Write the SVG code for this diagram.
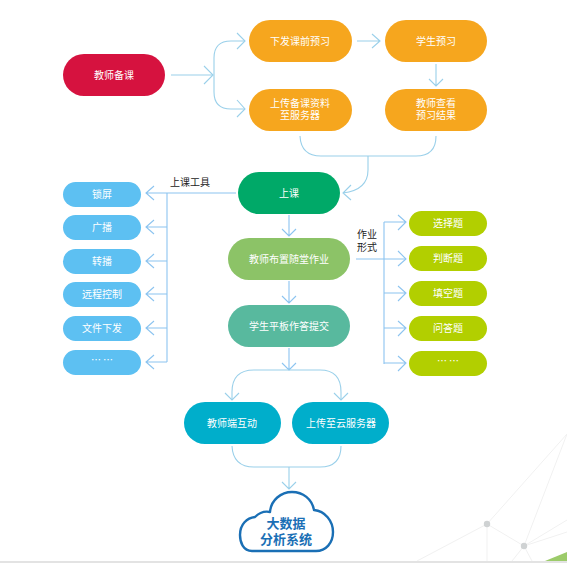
<svg xmlns="http://www.w3.org/2000/svg" width="567" height="563" viewBox="0 0 567 563">
<style>
.c{fill:none;stroke:#9ad0ea;stroke-width:1.1}
.b{fill:none;stroke:#8cc4f0;stroke-width:1.1}
.bg{fill:none;stroke:#f1f1f1;stroke-width:1}
text{font-family:"Noto Sans CJK SC","Noto Sans",sans-serif;font-size:10px;text-anchor:middle;fill:#fff}
.k{fill:#222}
.cl{fill:#1a6fb5;font-size:13px;font-weight:700}
</style>
<rect width="567" height="563" fill="#fff"/>
<g id="background">
<path class="bg" d="M567 434L487 524L417 561M567 434L524 546M487 524V561M487 524L524 546L567 520M524 546L567 532M524 546L512 561M524 546L532 561"/>
<circle cx="487" cy="524" r="3.2" fill="#cfd2d3"/>
<circle cx="524" cy="546" r="3.2" fill="#cfd2d3"/>
<path d="M545 561L567 552V561Z" fill="#9ccb6a"/>
<rect y="561" width="567" height="2" fill="#e3e3e3"/>
</g>
<g id="connectors">
<path class="c" d="M171 75H213"/><path class="c" d="M204 66L213 75L204 84"/>
<path class="c" d="M245 41H231Q214 41 214 58V92Q214 109 231 109H245"/>
<path class="c" d="M237 33L245 41L237 49M237 100L245 109L237 117"/>
<path class="c" d="M357 41H379M372 34L380 41L372 48"/>
<path class="c" d="M436 64V86M429 79L436 86L443 79"/>
<path class="c" d="M300 136Q301 156 321 156H416Q436 156 436 136"/>
<path class="c" d="M368 156V170Q368 190 343 193M351 185L343 193L351 200"/>
<path class="b" d="M236 193H146M154 186L146 193L154 200"/>
<path class="b" d="M167 193V362"/>
<path class="b" d="M167 227H146M154 220L146 227L154 234M167 261H146M154 254L146 261L154 268M167 294H146M154 287L146 294L154 301M167 328H146M154 321L146 328L154 335M167 362H146M154 355L146 362L154 369"/>
<path class="b" d="M289 215V236M282 229L289 236L296 229M289 281V303M282 296L289 303L296 296M289 348V370M282 363L289 370L296 363"/>
<path class="b" d="M356 259H405M384 222V364"/>
<path class="b" d="M384 222H405M398 215L406 222L398 230M398 251L406 259L398 266M384 293H405M398 286L406 293L398 301M384 328H405M398 321L406 328L398 336M384 363H405M398 356L406 363L398 371"/>
<path class="c" d="M232 399V392Q232 370 254 370H320Q341 370 341 392V399"/>
<path class="c" d="M225 393L232 400L239 393M334 393L341 400L348 393"/>
<path class="c" d="M232 446Q233 467 254 467H320Q341 467 341 446"/>
<path class="c" d="M289 467V489M282 482L289 489L296 482"/>
</g>
<g id="n-prep"><rect x="63" y="54" width="102" height="42" rx="21" fill="#d6123f"/><text x="114" y="79">教师备课</text></g>
<g id="n-issue"><rect x="249" y="20" width="103" height="42" rx="21" fill="#f6a61e"/><text x="300" y="45">下发课前预习</text></g>
<g id="n-student"><rect x="385" y="20" width="102" height="42" rx="21" fill="#f6a61e"/><text x="436" y="45">学生预习</text></g>
<g id="n-upload"><rect x="249" y="89" width="103" height="42" rx="21" fill="#f6a61e"/><text x="300" y="107">上传备课资料<tspan x="300" dy="12">至服务器</tspan></text></g>
<g id="n-check"><rect x="385" y="89" width="102" height="42" rx="21" fill="#f6a61e"/><text x="436" y="107">教师查看<tspan x="436" dy="12">预习结果</tspan></text></g>
<g id="n-class"><rect x="238" y="172" width="102" height="42" rx="21" fill="#00a968"/><text x="289" y="197">上课</text></g>
<g id="n-assign"><rect x="228" y="238" width="122" height="42" rx="21" fill="#8cc367"/><text x="289" y="263">教师布置随堂作业</text></g>
<g id="n-submit"><rect x="228" y="305" width="122" height="42" rx="21" fill="#58b99e"/><text x="289" y="330">学生平板作答提交</text></g>
<g id="n-t1"><rect x="63" y="182" width="78" height="25" rx="12.5" fill="#5dc0f2"/><text x="102" y="198">锁屏</text></g>
<g id="n-t2"><rect x="63" y="215" width="78" height="25" rx="12.5" fill="#5dc0f2"/><text x="102" y="231">广播</text></g>
<g id="n-t3"><rect x="63" y="249" width="78" height="25" rx="12.5" fill="#5dc0f2"/><text x="102" y="265">转播</text></g>
<g id="n-t4"><rect x="63" y="282" width="78" height="25" rx="12.5" fill="#5dc0f2"/><text x="102" y="298">远程控制</text></g>
<g id="n-t5"><rect x="63" y="316" width="78" height="25" rx="12.5" fill="#5dc0f2"/><text x="102" y="332">文件下发</text></g>
<g id="n-t6"><rect x="63" y="350" width="78" height="25" rx="12.5" fill="#5dc0f2"/><text x="102" y="364">… …</text></g>
<g id="n-f1"><rect x="409" y="211" width="78" height="25" rx="12.5" fill="#b2cf00"/><text x="448" y="227">选择题</text></g>
<g id="n-f2"><rect x="409" y="246" width="78" height="25" rx="12.5" fill="#b2cf00"/><text x="448" y="262">判断题</text></g>
<g id="n-f3"><rect x="409" y="281" width="78" height="25" rx="12.5" fill="#b2cf00"/><text x="448" y="297">填空题</text></g>
<g id="n-f4"><rect x="409" y="316" width="78" height="25" rx="12.5" fill="#b2cf00"/><text x="448" y="332">问答题</text></g>
<g id="n-f5"><rect x="409" y="351" width="78" height="25" rx="12.5" fill="#b2cf00"/><text x="448" y="365">… …</text></g>
<g id="n-interact"><rect x="184" y="402" width="97" height="42" rx="21" fill="#00aecb"/><text x="232" y="427">教师端互动</text></g>
<g id="n-cloud-up"><rect x="292" y="402" width="97" height="42" rx="21" fill="#00aecb"/><text x="341" y="427">上传至云服务器</text></g>
<g id="n-bigdata">
<path d="M252 551C243 551 240 542 240 535C240 524 247 518 255 517C259 513 265 511 270 512C271 500 281 492 292 492C303 492 312 499 314 510C325 511 333 521 333 532C333 543 326 551 316 551Z" fill="#fff" stroke="#1a6fb5" stroke-width="2.4" stroke-linejoin="round"/>
<text class="cl" x="286" y="528">大数据<tspan x="286" dy="16">分析系统</tspan></text>
</g>
<g id="labels">
<text class="k" x="190" y="186">上课工具</text>
<text class="k" x="367" y="238">作业<tspan x="367" dy="13">形式</tspan></text>
</g>
</svg>
